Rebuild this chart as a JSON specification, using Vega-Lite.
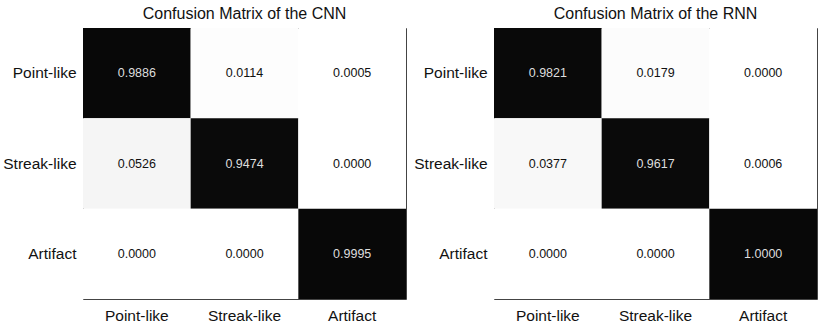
{
  "$schema": "https://vega.github.io/schema/vega-lite/v6.json",
  "background": "white",
  "padding": {"left": 2, "top": 5, "right": 0, "bottom": 0},
  "spacing": 6,
  "config": {
    "font": "Liberation Sans",
    "view": {"stroke": "#444444", "strokeWidth": 1},
    "title": {"fontSize": 16, "fontWeight": "normal", "color": "#111111", "offset": 6},
    "axis": {"labelFontSize": 15.5, "labelColor": "#111111", "ticks": false, "domain": false, "title": null, "labelPadding": 7}
  },
  "datasets": {
    "cnn": [
      {"actual": "Point-like", "predicted": "Point-like", "value": 0.9886},
      {"actual": "Point-like", "predicted": "Streak-like", "value": 0.0114},
      {"actual": "Point-like", "predicted": "Artifact", "value": 0.0005},
      {"actual": "Streak-like", "predicted": "Point-like", "value": 0.0526},
      {"actual": "Streak-like", "predicted": "Streak-like", "value": 0.9474},
      {"actual": "Streak-like", "predicted": "Artifact", "value": 0.0000},
      {"actual": "Artifact", "predicted": "Point-like", "value": 0.0000},
      {"actual": "Artifact", "predicted": "Streak-like", "value": 0.0000},
      {"actual": "Artifact", "predicted": "Artifact", "value": 0.9995}
    ],
    "rnn": [
      {"actual": "Point-like", "predicted": "Point-like", "value": 0.9821},
      {"actual": "Point-like", "predicted": "Streak-like", "value": 0.0179},
      {"actual": "Point-like", "predicted": "Artifact", "value": 0.0000},
      {"actual": "Streak-like", "predicted": "Point-like", "value": 0.0377},
      {"actual": "Streak-like", "predicted": "Streak-like", "value": 0.9617},
      {"actual": "Streak-like", "predicted": "Artifact", "value": 0.0006},
      {"actual": "Artifact", "predicted": "Point-like", "value": 0.0000},
      {"actual": "Artifact", "predicted": "Streak-like", "value": 0.0000},
      {"actual": "Artifact", "predicted": "Artifact", "value": 1.0000}
    ]
  },
  "hconcat": [
    {
      "title": "Confusion Matrix of the CNN",
      "width": 323,
      "height": 271,
      "data": {"name": "cnn"},
      "encoding": {
        "x": {"field": "predicted", "type": "nominal", "sort": ["Point-like", "Streak-like", "Artifact"], "axis": {"orient": "bottom", "labelAngle": 0, "labelPadding": 9}},
        "y": {"field": "actual", "type": "nominal", "sort": ["Point-like", "Streak-like", "Artifact"]}
      },
      "layer": [
        {"mark": {"type": "rect"}, "encoding": {"color": {"field": "value", "type": "quantitative", "scale": {"domain": [0, 0.1, 0.9, 1], "range": ["#ffffff", "#ececec", "#0c0c0c", "#080808"], "interpolate": "rgb"}, "legend": null}}},
        {"mark": {"type": "text", "fontSize": 12.5}, "encoding": {"text": {"field": "value", "type": "quantitative", "format": ".4f"}, "color": {"condition": {"test": "datum.value > 0.5", "value": "#dddddd"}, "value": "#111111"}}}
      ]
    },
    {
      "title": "Confusion Matrix of the RNN",
      "width": 323,
      "height": 271,
      "data": {"name": "rnn"},
      "encoding": {
        "x": {"field": "predicted", "type": "nominal", "sort": ["Point-like", "Streak-like", "Artifact"], "axis": {"orient": "bottom", "labelAngle": 0, "labelPadding": 9}},
        "y": {"field": "actual", "type": "nominal", "sort": ["Point-like", "Streak-like", "Artifact"]}
      },
      "layer": [
        {"mark": {"type": "rect"}, "encoding": {"color": {"field": "value", "type": "quantitative", "scale": {"domain": [0, 0.1, 0.9, 1], "range": ["#ffffff", "#ececec", "#0c0c0c", "#080808"], "interpolate": "rgb"}, "legend": null}}},
        {"mark": {"type": "text", "fontSize": 12.5}, "encoding": {"text": {"field": "value", "type": "quantitative", "format": ".4f"}, "color": {"condition": {"test": "datum.value > 0.5", "value": "#dddddd"}, "value": "#111111"}}}
      ]
    }
  ],
  "resolve": {"scale": {"color": "independent"}}
}
